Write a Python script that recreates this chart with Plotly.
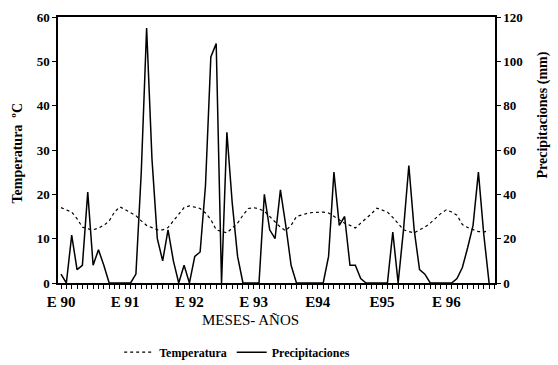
import plotly.graph_objects as go

months = list(range(81))

# Temperature (°C), left axis
temperatura = [17, 16.5, 16, 14.5, 12.6, 12.2, 12, 12.4, 13, 14, 16, 17.2,
               16.5, 15.8, 15.2, 14, 13, 12.5, 12, 12, 12.5, 14, 15.5, 17,
               17.4, 17.1, 16.8, 15.8, 14.3, 12, 11.6, 11.3, 12.4, 13.5, 15.3, 16.8,
               17, 16.7, 16.2, 15, 13.8, 12.6, 11.8, 13, 15, 15.4, 15.7, 15.9,
               16, 16, 15.8, 15, 14.3, 13.5, 13, 12.4, 13.5, 14.5, 15.6, 16.9,
               16.5, 16, 14.8, 13.3, 12, 11.6, 11.3, 12, 12.6, 13.5, 14.7, 15.7,
               16.5, 16, 15.3, 13.2, 12.5, 12, 11.6, 11.5, 11.8]

# Precipitation (mm), right axis
precipitaciones = [4, 0, 21.6, 6, 8, 41, 8, 15, 8, 0, 0, 0,
                   0, 0, 4, 50, 115, 56, 20, 10, 24, 10, 0, 8,
                   0, 12, 14, 44, 102, 108, 0, 68, 36, 12, 0, 0,
                   0, 0, 40, 24, 20, 42, 26, 8, 0, 0, 0, 0,
                   0, 0, 12, 50, 26, 30, 8, 8, 2, 0, 0, 0,
                   0, 0, 23, 0, 24, 53, 24, 6, 4, 0, 0, 0,
                   0, 0, 2, 7, 16, 26, 50, 22, 0]

tick_pos = [0, 12, 24, 36, 48, 60, 72]
tick_text = ["E 90", "E 91", "E 92", "E 93", "E94", "E95", "E 96"]

FONT = "Liberation Serif"

def f(size, weight="bold"):
    return dict(family=FONT, size=size, color="black", weight=weight)

fig = go.Figure()
fig.add_trace(go.Scatter(x=months, y=temperatura, name="Temperatura", mode="lines",
                         line=dict(color="black", width=1.2, dash="dot"), yaxis="y"))
fig.add_trace(go.Scatter(x=months, y=precipitaciones, name="Precipitaciones", mode="lines",
                         line=dict(color="black", width=1.5), yaxis="y2"))

fig.update_layout(
    width=558, height=365,
    margin=dict(l=58, r=63, t=17, b=82, autoexpand=False),
    paper_bgcolor="white", plot_bgcolor="white",
    font=f(13),
    showlegend=True,
    legend=dict(orientation="h", x=0.41, y=-0.26, xanchor="center", yanchor="middle",
                font=f(12), bgcolor="rgba(0,0,0,0)", tracegroupgap=0, itemwidth=30),
    xaxis=dict(range=[-0.56, 81.1], tickvals=tick_pos, ticktext=tick_text, automargin=False,
               showline=True, linecolor="black", linewidth=1.5, mirror=True,
               ticks="outside", ticklen=4, tickcolor="black", showgrid=False, zeroline=False,
               minor=dict(dtick=1, tick0=0, ticks="outside", ticklen=4, tickcolor="black"),
               tickfont=f(15)),
    yaxis=dict(range=[0, 60], dtick=10, showline=True, linecolor="black", linewidth=1.5,
               automargin=False,
               ticks="outside", ticklen=4, tickcolor="black", showgrid=False, zeroline=False,
               tickfont=f(13)),
    yaxis2=dict(range=[0, 120], dtick=20, overlaying="y", side="right", automargin=False,
                showline=True, linecolor="black", linewidth=1.5,
                ticks="outside", ticklen=4, tickcolor="black", showgrid=False, zeroline=False,
                tickfont=f(13)),
    annotations=[
        dict(text="Temperatura  ºC", xref="paper", yref="paper", x=-0.092, y=0.49,
             xanchor="center", yanchor="middle",
             textangle=-90, showarrow=False, font=f(14)),
        dict(text="Precipitaciones (mm)", xref="paper", yref="paper", x=1.11, y=0.63,
             xanchor="center", yanchor="middle",
             textangle=-90, showarrow=False, font=f(14)),
        dict(text="MESES- AÑOS", xref="paper", yref="paper", x=0.44, y=-0.139,
             xanchor="center", yanchor="middle",
             showarrow=False, font=f(15, "normal")),
    ],
)

fig.write_html("out.html", config={"displayModeBar": False},
               post_script="document.body.style.margin='0px';document.body.style.padding='0px';")
